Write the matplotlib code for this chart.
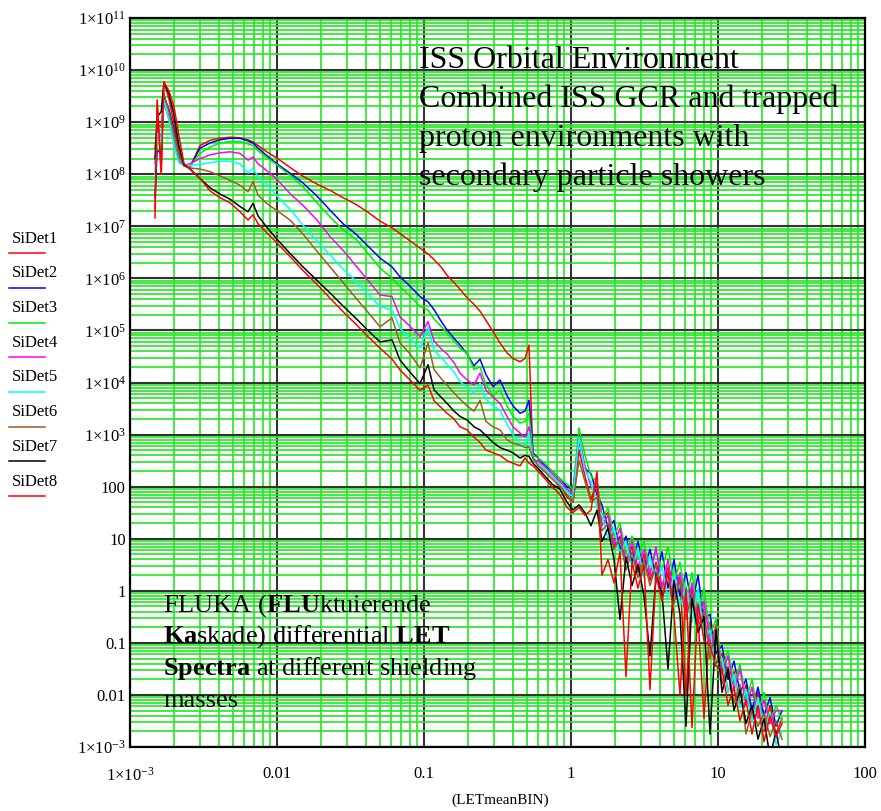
"""
FLUKA differential LET spectra for the eight silicon detectors (SiDet1..SiDet8)
in the ISS orbital environment, log-log plot with Mathcad style grid.
"""
import numpy as np
import matplotlib
matplotlib.use("Agg")
import matplotlib.pyplot as plt
from matplotlib.lines import Line2D
from matplotlib.ticker import FixedLocator, FixedFormatter, NullFormatter

plt.rcParams['font.family'] = ['Liberation Serif', 'DejaVu Serif']
plt.rcParams['mathtext.fontset'] = 'custom'
plt.rcParams['mathtext.rm'] = 'Liberation Serif'
plt.rcParams['mathtext.it'] = 'Liberation Serif:italic'
plt.rcParams['mathtext.bf'] = 'Liberation Serif:bold'

# LET bin centres (LETmeanBIN)
let_bins = [
    0.00148, 0.00153, 0.00163, 0.00170, 0.00184, 0.00199, 0.00215, 0.00233, 0.00256,
    0.00299, 0.00350, 0.00409, 0.00479, 0.00560, 0.00635, 0.00687, 0.00743, 0.00842, 0.0100,
    0.01226, 0.01503, 0.01872, 0.02295, 0.02812, 0.03447, 0.04159, 0.05019, 0.06058, 0.06868,
    0.08032, 0.09394, 0.1065, 0.1170, 0.1305, 0.1434, 0.1600, 0.1758, 0.1962, 0.2189,
    0.2404, 0.2642, 0.2947, 0.3288, 0.3669, 0.4031, 0.4498, 0.4864, 0.5180, 0.5515,
    0.5964, 0.6654, 0.7424, 0.8416, 0.9393, 1.032, 1.133, 1.245, 1.368, 1.503,
    1.625, 1.785, 1.961, 2.154, 2.367, 2.600, 2.857, 3.138, 3.447, 3.787,
    4.159, 4.570, 5.020, 5.514, 6.058, 6.655, 7.310, 8.032, 8.823, 9.692,
    10.65, 11.70, 12.85, 14.12, 15.51, 17.03, 18.71, 20.56, 22.58, 24.81,
    27.25,
]

# log10 of the differential flux for each detector
sidet1 = [
    7.16, 9.35, 8.05, 9.78, 9.45, 8.98, 8.45, 8.18, 8.13,
    8.55, 8.65, 8.69, 8.71, 8.70, 8.66, 8.62, 8.55, 8.44, 8.31,
    8.13, 7.96, 7.81, 7.69, 7.55, 7.42, 7.27, 7.10, 6.97, 6.86,
    6.72, 6.58, 6.47, 6.36, 6.22, 6.06, 5.92, 5.79, 5.63, 5.50,
    5.37, 5.19, 4.98, 4.76, 4.57, 4.46, 4.40, 4.46, 4.72, 2.55,
    2.45, 2.32, 2.20, 2.05, 1.80, 1.70, 2.70, 2.20, 1.75, 2.10,
    1.40, 1.50, 0.85, 1.05, 0.55, 0.85, 0.35, 0.70, 0.20, 0.55,
    0.05, 0.45, -0.10, 0.30, -2.00, 0.10, -0.50, -2.45, -0.60, -1.40,
    -1.20, -1.95, -1.55, -2.20, -1.80, -2.50, -1.95, -2.70, -2.20, -2.75,
    -2.45,
]
sidet2 = [
    7.56, 8.46, 8.40, 9.48, 9.25, 8.85, 8.35, 8.18, 8.14,
    8.50, 8.60, 8.66, 8.69, 8.69, 8.64, 8.60, 8.50, 8.37, 8.20,
    8.02, 7.83, 7.58, 7.31, 7.05, 6.85, 6.62, 6.39, 6.22, 6.03,
    5.85, 5.65, 5.55, 5.40, 5.18, 5.01, 4.85, 4.72, 4.55, 4.32,
    4.45, 4.15, 3.92, 4.05, 3.75, 3.55, 3.41, 3.45, 3.66, 2.65,
    2.55, 2.40, 2.30, 2.15, 2.00, 1.95, 2.90, 2.35, 2.25, 1.85,
    1.65, 1.20, 1.35, 0.80, 1.05, 0.55, 0.95, 0.40, 0.80, 0.25,
    0.75, 0.05, 0.60, -0.10, 0.35, -0.30, 0.30, -0.55, -0.45, -1.20,
    -1.05, -1.70, -1.35, -1.95, -1.70, -2.30, -1.85, -2.40, -2.05, -2.60,
    -2.30,
]
sidet3 = [
    8.00, 8.60, 8.55, 9.37, 9.10, 8.70, 8.30, 8.17, 8.15,
    8.40, 8.52, 8.60, 8.63, 8.63, 8.58, 8.55, 8.45, 8.33, 8.18,
    7.98, 7.76, 7.45, 7.18, 6.93, 6.75, 6.48, 6.20, 6.00, 5.84,
    5.66, 5.46, 5.39, 5.22, 5.08, 4.95, 4.80, 4.66, 4.56, 4.25,
    4.30, 3.95, 3.75, 3.86, 3.55, 3.35, 3.22, 3.25, 3.41, 2.60,
    2.55, 2.45, 2.30, 2.15, 2.05, 1.95, 3.13, 2.60, 2.20, 2.10,
    1.35, 1.60, 1.05, 1.30, 0.70, 1.05, 0.60, 0.95, 0.35, 0.75,
    0.40, 0.85, 0.15, 0.55, -0.20, 0.35, -0.45, 0.05, -0.85, -0.55,
    -1.50, -1.15, -1.80, -1.40, -2.10, -1.70, -2.35, -1.95, -2.55, -2.20,
    -2.50,
]
sidet4 = [
    8.20, 8.90, 8.70, 9.40, 9.05, 8.60, 8.25, 8.17, 8.20,
    8.30, 8.37, 8.41, 8.43, 8.40, 8.27, 8.33, 8.20, 8.08, 7.90,
    7.63, 7.40, 7.12, 6.80, 6.54, 6.24, 5.96, 5.68, 5.65, 5.26,
    5.08, 4.88, 5.17, 4.80, 4.65, 4.55, 4.38, 4.18, 4.05, 3.95,
    4.18, 3.85, 3.72, 3.60, 3.35, 3.15, 3.03, 2.95, 3.15, 2.50,
    2.50, 2.38, 2.25, 2.10, 1.95, 1.85, 2.97, 2.40, 2.00, 1.95,
    1.25, 1.45, 0.90, 1.20, 0.55, 0.95, 0.45, 0.80, 0.30, 0.85,
    0.05, 0.60, -0.10, 0.35, -0.40, 0.15, -0.60, -0.20, -1.00, -0.70,
    -1.60, -1.25, -1.90, -1.50, -2.20, -1.85, -2.45, -2.10, -2.55, -2.30,
    -2.30,
]
sidet5 = [
    8.02, 8.79, 8.66, 9.43, 9.05, 8.55, 8.22, 8.16, 8.17,
    8.19, 8.22, 8.25, 8.25, 8.20, 8.02, 8.12, 7.95, 7.82, 7.58,
    7.33, 7.02, 6.72, 6.45, 6.18, 5.95, 5.70, 5.46, 5.39, 5.04,
    4.85, 4.66, 5.07, 4.62, 4.48, 4.35, 4.20, 4.02, 3.90, 3.80,
    3.99, 3.68, 3.55, 3.47, 3.20, 3.00, 2.83, 2.80, 3.03, 2.48,
    2.45, 2.33, 2.20, 2.05, 1.90, 1.80, 2.95, 2.30, 2.10, 1.60,
    1.45, 1.00, 1.20, 0.70, 0.95, 0.45, 0.80, 0.25, 0.65, 0.15,
    0.45, -0.15, 0.30, -0.30, 0.10, -0.60, 0.05, -0.95, -0.75, -1.45,
    -1.30, -1.95, -1.60, -2.25, -1.90, -2.50, -2.05, -2.65, -2.35, -2.95,
    -2.70,
]
sidet6 = [
    8.50, 8.98, 8.90, 9.55, 9.20, 8.79, 8.40, 8.16, 8.12,
    8.10, 8.05, 7.97, 7.88, 7.79, 7.66, 7.86, 7.60, 7.45, 7.30,
    7.12, 6.85, 6.52, 6.22, 5.92, 5.62, 5.35, 5.07, 5.24, 4.76,
    4.55, 4.28, 4.76, 4.25, 4.08, 3.95, 3.80, 3.68, 3.55, 3.45,
    3.66, 3.25, 3.15, 3.09, 2.90, 2.83, 2.80, 2.75, 2.76, 2.55,
    2.40, 2.28, 2.15, 2.00, 1.85, 1.70, 2.50, 2.10, 1.70, 1.80,
    1.15, 1.30, 0.80, 1.00, 0.40, 0.75, 0.25, 0.60, 0.10, 0.50,
    -0.10, 0.35, -0.25, 0.20, -0.55, -0.05, -0.70, -0.40, -1.30, -0.65,
    -1.80, -1.45, -2.15, -1.80, -2.75, -2.30, -2.60, -2.35, -2.80, -2.50,
    -2.85,
]
sidet7 = [
    8.30, 9.10, 9.20, 9.75, 9.55, 9.15, 8.55, 8.18, 8.10,
    7.92, 7.74, 7.62, 7.52, 7.38, 7.28, 7.44, 7.20, 7.00, 6.75,
    6.48, 6.22, 5.96, 5.72, 5.47, 5.23, 5.00, 4.78, 4.82, 4.43,
    4.20, 3.98, 4.34, 3.86, 3.72, 3.60, 3.45, 3.35, 3.28, 3.15,
    3.09, 2.98, 2.85, 2.75, 2.70, 2.65, 2.55, 2.60, 2.58, 2.45,
    2.35, 2.20, 2.05, 1.95, 1.70, 1.55, 1.65, 1.50, 1.25, 1.55,
    0.95, 1.20, 0.60, -0.55, 0.65, 0.10, 0.50, -0.10, -1.25, 0.30,
    -0.05, -1.50, 0.20, -0.45, -2.60, -0.15, -0.80, -0.50, -2.75, -0.75,
    -1.95, -1.50, -2.30, -1.90, -2.55, -2.20, -2.85, -2.45, -3.20, -2.70,
    -3.30,
]
sidet8 = [
    7.30, 9.43, 8.00, 9.77, 9.60, 9.30, 8.75, 8.20, 8.10,
    7.92, 7.68, 7.55, 7.45, 7.28, 7.12, 7.22, 7.05, 6.89, 6.68,
    6.42, 6.15, 5.88, 5.62, 5.36, 5.12, 4.88, 4.66, 4.45, 4.24,
    4.05, 3.85, 3.95, 3.65, 3.52, 3.41, 3.30, 3.15, 3.09, 2.95,
    2.85, 2.70, 2.65, 2.60, 2.50, 2.45, 2.40, 2.55, 2.45, 2.40,
    2.30, 2.15, 2.00, 1.85, 1.60, 1.50, 1.60, 1.45, 1.55, 2.29,
    0.30, 0.60, 0.15, 0.75, -1.65, 0.55, 0.05, 0.50, -1.90, 0.30,
    -0.20, 0.35, -0.45, -2.00, 0.05, -2.63, -0.25, -0.95, -1.05, -1.45,
    -1.50, -2.20, -1.85, -2.50, -2.10, -2.75, -2.20, -2.90, -2.40, -2.80,
    -2.55,
]

det_names = ['SiDet1', 'SiDet2', 'SiDet3', 'SiDet4', 'SiDet5', 'SiDet6', 'SiDet7', 'SiDet8']
det_colors = ['#ff0000', '#0000ff', '#00ee00', '#ff00ff', '#00ffff', '#9b5b22', '#000000', '#ff0000']
det_logs = [sidet1, sidet2, sidet3, sidet4, sidet5, sidet6, sidet7, sidet8]

W, H = 881, 811
fig = plt.figure(figsize=(W / 100, H / 100), dpi=100)
ax = fig.add_axes([130 / W, 1 - 747 / H, 735 / W, 729 / H])
ax.set_xscale('log')
ax.set_yscale('log')
ax.set_xlim(1e-3, 100)
ax.set_ylim(1e-3, 1e11)

x = np.array(let_bins)
for logs, color in zip(det_logs, det_colors):
    ax.plot(x, 10.0 ** np.array(logs), color=color, lw=1.1, zorder=3)

# tick positions and Mathcad style labels
def dec_label(k):
    plain = {-2: '0.01', -1: '0.1', 0: '1', 1: '10', 2: '100'}
    return plain.get(k, r'$1{\times}10^{%d}$' % k)

xdec = list(range(-3, 3))
ydec = list(range(-3, 12))
ax.xaxis.set_major_locator(FixedLocator([10.0 ** k for k in xdec]))
ax.xaxis.set_major_formatter(FixedFormatter([dec_label(k) for k in xdec]))
ax.yaxis.set_major_locator(FixedLocator([10.0 ** k for k in ydec]))
ax.yaxis.set_major_formatter(FixedFormatter([dec_label(k) for k in ydec]))
ax.xaxis.set_minor_locator(FixedLocator([m * 10.0 ** k for k in xdec[:-1] for m in range(2, 10)]))
ax.yaxis.set_minor_locator(FixedLocator([m * 10.0 ** k for k in ydec[:-1] for m in range(2, 10)]))
ax.xaxis.set_minor_formatter(NullFormatter())
ax.yaxis.set_minor_formatter(NullFormatter())

ax.tick_params(which='both', length=0)
ax.tick_params(axis='x', pad=14, labelsize=12)
ax.tick_params(axis='y', pad=3, labelsize=12)
ax.set_axisbelow(True)
ax.grid(which='minor', color='#22e622', lw=1.2)
ax.grid(which='major', color='#333333', lw=1.5)
for sp in ax.spines.values():
    sp.set_color('black')
    sp.set_linewidth(1.6)

fig.text(500 / W, 1 - 800 / H, '(LETmeanBIN)', ha='center', va='center', fontsize=11)

# detector legend on the left margin
for i, (name, color) in enumerate(zip(det_names, det_colors)):
    ty = 238.6 + i * 34.7
    fig.text(12 / W, 1 - ty / H, name, ha='left', va='center', fontsize=12)
    fig.add_artist(Line2D([9 / W, 45 / W], [1 - (ty + 14.5) / H] * 2,
                          color=color, lw=1.1, transform=fig.transFigure))

# annotations
upper_lines = ['ISS Orbital Environment', 'Combined ISS GCR and trapped',
               'proton environments with', 'secondary particle showers']
for line, base in zip(upper_lines, [68, 107, 146, 185]):
    fig.text(419 / W, 1 - base / H, line, ha='left', va='baseline', fontsize=23)

lower_lines = [r'$\text{FLUKA (}\mathbf{FLU}\text{ktuierende}$',
               r'$\mathbf{Ka}\text{skade) differential }\mathbf{LET}$',
               r'$\mathbf{Spectra}\text{ at different shielding}$',
               'masses']
for line, base in zip(lower_lines, [612, 643, 675, 707]):
    fig.text(163 / W, 1 - base / H, line, ha='left', va='baseline', fontsize=19)

fig.savefig('out.png', dpi=100)
